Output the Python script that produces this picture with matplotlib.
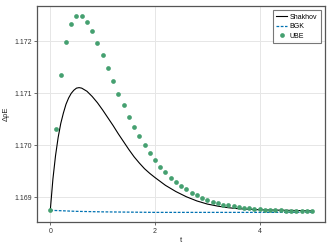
import matplotlib
matplotlib.use("Agg")
import matplotlib.pyplot as plt
import numpy as np

# Shakhov model (line)
shakhov_t = [0, 0.05, 0.1, 0.15, 0.2, 0.25, 0.3, 0.35, 0.4, 0.45, 0.5, 0.55, 0.6,
             0.7, 0.8, 0.9, 1.0, 1.1, 1.2, 1.3, 1.4, 1.5, 1.6, 1.7, 1.8, 1.9, 2.0,
             2.2, 2.4, 2.6, 2.8, 3.0, 3.2, 3.4, 3.6, 3.8, 4.0, 4.5, 5.0]
shakhov_v = [1.16875, 1.16935, 1.16980, 1.17015, 1.17042, 1.17062, 1.17079, 1.17091,
             1.17100, 1.17106, 1.17110, 1.17111, 1.17110, 1.17104, 1.17094, 1.17082,
             1.17068, 1.17053, 1.17038, 1.17022, 1.17007, 1.16992, 1.16978, 1.16966,
             1.16955, 1.16946, 1.16938, 1.16923, 1.16911, 1.16901, 1.16893, 1.16887,
             1.16883, 1.16880, 1.16878, 1.16877, 1.16876, 1.16875, 1.16874]

# BGK model (dashed line)
bgk_t = [0, 0.25, 0.5, 0.75, 1.0, 1.5, 2.0, 3.0, 4.0, 5.0]
bgk_v = [1.16875, 1.16874, 1.16873, 1.168725, 1.16872, 1.168715, 1.16871, 1.16871, 1.16871, 1.16871]

# UBE (points), t = 0, 0.1, ..., 5.0
ube_t = [round(0.1 * i, 1) for i in range(51)]
ube_v = [1.16875, 1.17032, 1.17136, 1.17199, 1.17234, 1.17249, 1.17249, 1.17237,
         1.17219, 1.17197, 1.17173, 1.17148, 1.17124, 1.17098, 1.17077, 1.17055,
         1.17035, 1.17017, 1.17000, 1.16985, 1.16971, 1.16959, 1.16948, 1.16938,
         1.16930, 1.16922, 1.16916, 1.16909, 1.16904, 1.16899, 1.16895, 1.16891,
         1.16889, 1.16886, 1.16885, 1.16883, 1.16881, 1.16880, 1.16879, 1.16877,
         1.16877, 1.168765, 1.16876, 1.168755, 1.16875, 1.168745, 1.16874,
         1.168737, 1.168734, 1.168731, 1.16873]

xticks = [0, 2, 4]
yticks = [1.169, 1.170, 1.171, 1.172]
ytick_labels = ["1.169", "1.170", "1.171", "1.172"]

plt.rcParams['font.family'] = ['Liberation Sans', 'DejaVu Sans']

fig = plt.figure(figsize=(3.32, 2.49), dpi=100)
ax = fig.add_axes([37.3 / 332, 1 - 222 / 249, (325 - 37.3) / 332, (222 - 6) / 249])

ax.plot(shakhov_t, shakhov_v, color='black', lw=0.8, label='Shakhov', zorder=3)
ax.plot(bgk_t, bgk_v, color='#0072B2', lw=0.9, ls=(0, (2.2, 1.2)), label='BGK', zorder=3)
ax.plot(ube_t, ube_v, ls='none', marker='o', ms=3.4, mew=0, color='#45a070',
        label='UBE', zorder=4)

ax.set_xlim(-0.248, 5.247)
ax.set_ylim(1.168525, 1.17268)
ax.set_xticks(xticks)
ax.set_xticklabels([str(x) for x in xticks])
ax.set_yticks(yticks)
ax.set_yticklabels(ytick_labels)

ax.grid(True, color='#e6e6e6', lw=0.7)
ax.set_axisbelow(True)
for s in ax.spines.values():
    s.set_color('#555555')
    s.set_linewidth(0.9)
ax.tick_params(direction='out', length=2.5, width=0.6, color='#555555',
               labelsize=5, labelcolor='#333333', pad=1.5)

ax.set_xlabel('t', fontsize=5.5, color='#222222', labelpad=2)
ax.set_ylabel('ΔρE', fontsize=5.5, color='#222222', labelpad=3)

leg = ax.legend(loc='upper right', fontsize=5, frameon=True, fancybox=False,
                borderpad=0.5, handlelength=1.6, handletextpad=0.4,
                labelspacing=0.35, borderaxespad=0.6)
leg.get_frame().set_edgecolor('#555555')
leg.get_frame().set_linewidth(0.8)

fig.savefig('out.png', dpi=100)
